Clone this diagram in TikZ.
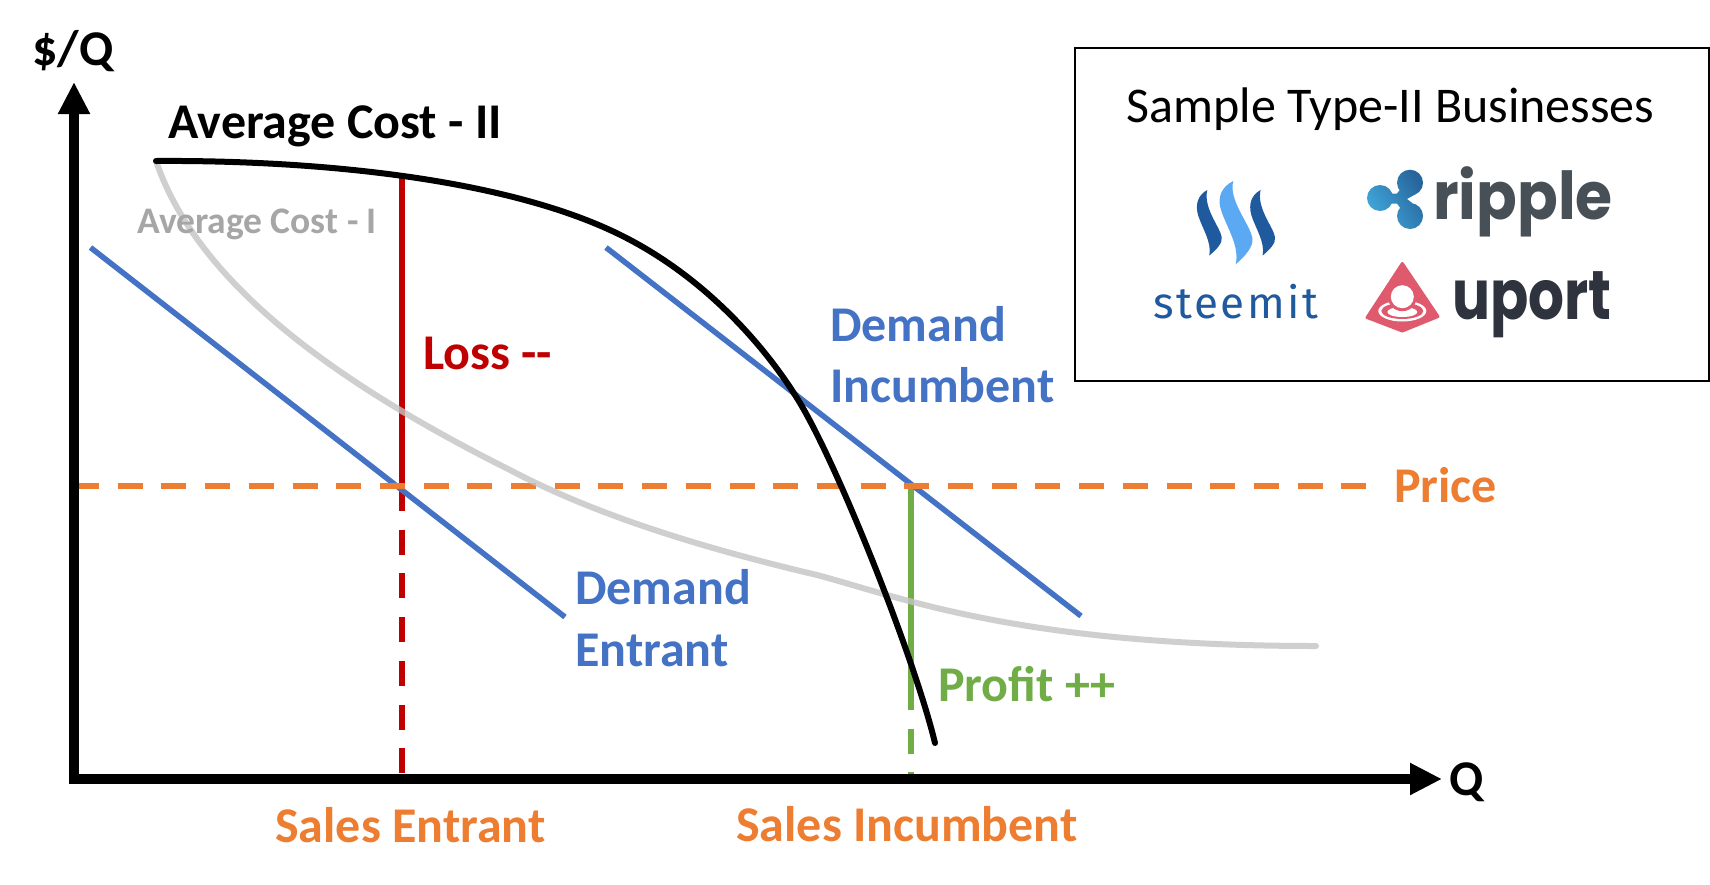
\documentclass[tikz,border=0pt]{standalone}
\usepackage{fontspec}
\usepackage{graphicx}
\setmainfont{Carlito}
\newfontfamily\logofont{Poppins}
\newfontfamily\stfont[LetterSpace=6]{Fira Sans}
\usetikzlibrary{arrows.meta}
\definecolor{dblue}{HTML}{4472C4}
\definecolor{dorange}{HTML}{ED7D31}
\definecolor{dred}{HTML}{C00000}
\definecolor{dgreen}{HTML}{70AD47}
\definecolor{dgray}{HTML}{C4C4C4}
\definecolor{steemd}{HTML}{1F5A9E}
\definecolor{steeml}{HTML}{5AA9F2}
\definecolor{ripgray}{HTML}{474F57}
\definecolor{ripl}{HTML}{41A8DC}
\definecolor{ripd}{HTML}{27669C}
\definecolor{updark}{HTML}{2E333E}
\definecolor{uppink}{HTML}{E05A6D}
\tikzset{
  lbl/.style={anchor=base west,inner sep=0pt,font=\bfseries\fontsize{50}{50}\selectfont},
  demandline/.style={draw=dblue,line width=5.5pt},
  solidmark/.style={line width=6pt},
  dashmark/.style={line width=6pt,dash pattern=on 25pt off 18.7pt},
  costline/.style={line width=6pt,line cap=round},
}
\begin{document}
\begin{tikzpicture}[x=1pt,y=-1pt]
\useasboundingbox (0,0) rectangle (1710,884);
\fill[white] (0,0) rectangle (1710,884);
% named points
\coordinate (top) at (74,82);
\coordinate (org) at (74,779);
\coordinate (right) at (1442,779);
\coordinate (de1) at (90.5,247.5);
\coordinate (de2) at (565,617);
\coordinate (di1) at (606,247.5);
\coordinate (di2) at (1081,616);
\coordinate (p1) at (74,486);
\coordinate (p2) at (1376,486);
\coordinate (r1) at (402,178);
\coordinate (r2) at (402,486);
\coordinate (r3) at (402,779);
\coordinate (g2) at (910.5,486);
\coordinate (g3) at (910.5,685);
\coordinate (g4) at (910.5,775);
\coordinate (ac) at (156,161);
% green and red
\draw[dgreen,solidmark] (g2) -- (g3);
\draw[dgreen,dashmark] (g3) -- (g4);
\draw[dred,solidmark] (r1) -- (r2);
\draw[dred,dashmark] (r2) -- (r3);
% demand
\draw[demandline] (de1) -- (de2);
\draw[demandline] (di1) -- (di2);
% price
\draw[dorange,line width=6pt,dash pattern=on 25pt off 18.7pt] (p1) -- (p2);
% gray curve
\draw[dgray,costline,opacity=.8] (ac) .. controls (190,260) and (290,360) .. (510,470) .. controls (590,512) and (690,545) .. (817,575) .. controls (900,597) and (1020,646) .. (1316,646);
% black curve
\draw[black,costline] (ac) .. controls (300,160) and (490,175) .. (610,230) .. controls (700,271) and (765,345) .. (800,403) .. controls (840,470) and (915,660) .. (935,743);
% axes
\draw[line width=10pt,{Triangle[width=30pt,length=32pt]}-{Triangle[width=30pt,length=32pt]}] (top) -- (org) -- (right);
% labels
\node[lbl] (ylab) at (32,65) {\$/Q};
\node[lbl] (xlab) at (1449,795) {Q};
\node[lbl] (ac2) at (168.5,138) {Average Cost - II};
\node[lbl,font=\bfseries\fontsize{37.5}{37.5}\selectfont,text=black!35] (ac1) at (137,233) {Average Cost - I};
\node[lbl,text=dred] (loss) at (423,369) {Loss -{}-};
\node[lbl,text=dblue] (di) at (830,341) {Demand};
\node[lbl,text=dblue] (di') at (830,402) {Incumbent};
\node[lbl,text=dblue] (de) at (575,604) {Demand};
\node[lbl,text=dblue] (de') at (575,666) {Entrant};
\node[lbl,text=dorange] (price) at (1394,502) {Price};
\node[lbl,text=dgreen] (profit) at (938,701) {Profit ++};
\node[lbl,text=dorange] (se) at (275,842) {Sales Entrant};
\node[lbl,text=dorange] (si) at (736,841) {Sales Incumbent};
% box
\draw[line width=2pt] (1075,48) rectangle (1709,381);
\node[anchor=base,inner sep=0pt,font=\fontsize{50}{50}\selectfont] (title) at (1390.5,122) {Sample Type-II Businesses};
% steemit icon
\fill[steemd] (1207.3,190) .. controls (1198,195) and (1195,204) .. (1198,215) .. controls (1202,228) and (1212,242) .. (1209.3,255.5) .. controls (1216,250) and (1223,243) .. (1221.7,237) .. controls (1220,227) and (1203,208) .. (1207.3,190) -- cycle;
\fill[steemd] (1260.6,190) .. controls (1251.3,195) and (1248.3,204) .. (1251.3,215) .. controls (1255.3,228) and (1265.3,242) .. (1262.6,255.5) .. controls (1269.3,250) and (1276.3,243) .. (1275,237) .. controls (1273.3,227) and (1256.3,208) .. (1260.6,190) -- cycle;
\fill[steeml] (1233.3,181) .. controls (1221,187) and (1217,198) .. (1221,210) .. controls (1226,226) and (1240,246) .. (1235.7,264.3) .. controls (1244,257) and (1254,247) .. (1252.3,238) .. controls (1250,224) and (1228,200) .. (1233.3,181) -- cycle;
\node[anchor=base,inner sep=0pt,text=steemd,font=\stfont\fontsize{44}{44}\selectfont] (steemit) at (1236,318) {steemit};
% ripple icon
\shade[left color=ripl,right color=ripd,shading angle=120]
  (1410,182.7) circle[radius=13] (1380,198) circle[radius=13] (1410,216) circle[radius=13]
  (1403,186) -- (1416,194) -- (1407,199) -- (1416,206) -- (1403,212) -- (1397,203.5) -- (1382,203.5) -- (1382,193.5) -- (1397,193.5) -- cycle;
\node[anchor=base west,inner sep=0pt,text=ripgray,font=\logofont\bfseries\fontsize{60}{60}\selectfont] (ripple) at (1433,219) {\scalebox{1}[1.1]{ripple}};
% uport icon
\fill[uppink,draw=uppink,line width=3pt,line join=round] (1402.3,263.5) -- (1367,317.5) -- (1402.3,331) -- (1438,316.5) -- cycle;
\fill[white] (1402.3,311) ellipse[x radius=24,y radius=10.5];
\fill[uppink] (1402.3,311) ellipse[x radius=21,y radius=8];
\fill[white] (1402.3,312) ellipse[x radius=15,y radius=5];
\fill[uppink] (1402.3,296.7) circle[radius=14.5];
\fill[white] (1402.3,296.7) circle[radius=11.5];
\node[anchor=base west,inner sep=0pt,text=updark,font=\logofont\bfseries\fontsize{60}{60}\selectfont] (uport) at (1452,319) {\scalebox{.94}[1.15]{uport}};
\end{tikzpicture}
\end{document}
